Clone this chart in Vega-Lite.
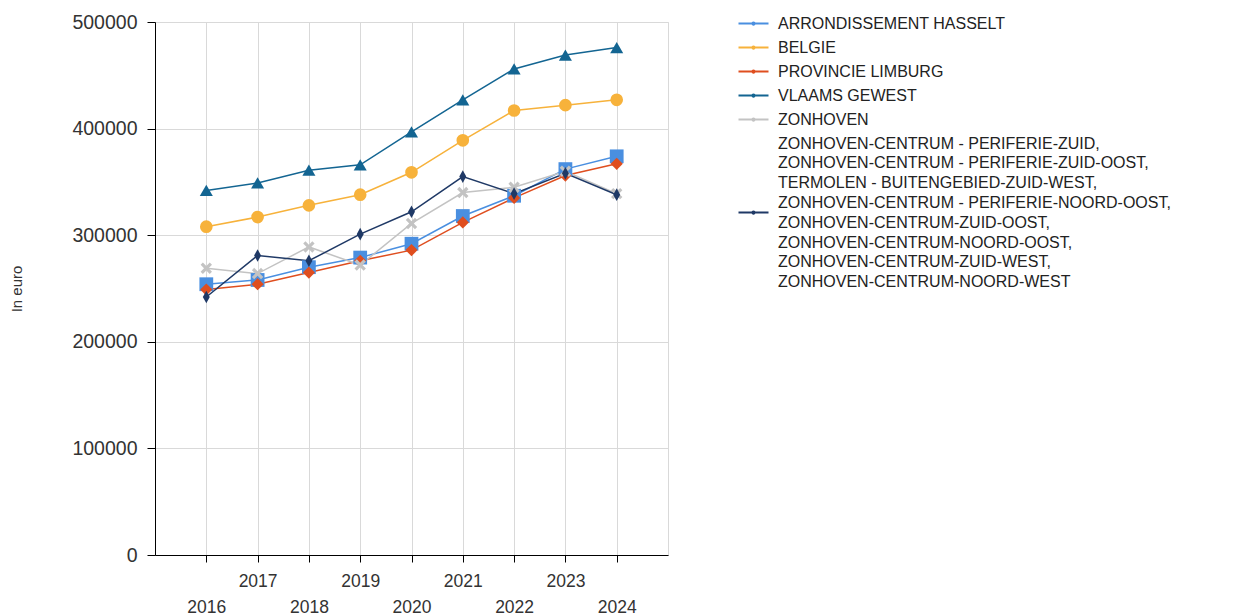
{
  "$schema": "https://vega.github.io/schema/vega-lite/v6.json",
  "width": 513,
  "height": 533,
  "autosize": {"type": "none"},
  "padding": {"left": 155, "top": 22, "right": 569, "bottom": 61},
  "background": "white",
  "config": {
    "font": "Liberation Sans",
    "view": {"stroke": "#d9d9d9", "strokeWidth": 1}
  },
  "data": {
    "values": [
      {"year": "2016", "series": "ARRONDISSEMENT HASSELT", "value": 254000},
      {"year": "2017", "series": "ARRONDISSEMENT HASSELT", "value": 258000},
      {"year": "2018", "series": "ARRONDISSEMENT HASSELT", "value": 270000},
      {"year": "2019", "series": "ARRONDISSEMENT HASSELT", "value": 279000},
      {"year": "2020", "series": "ARRONDISSEMENT HASSELT", "value": 292000},
      {"year": "2021", "series": "ARRONDISSEMENT HASSELT", "value": 318000},
      {"year": "2022", "series": "ARRONDISSEMENT HASSELT", "value": 337000},
      {"year": "2023", "series": "ARRONDISSEMENT HASSELT", "value": 362000},
      {"year": "2024", "series": "ARRONDISSEMENT HASSELT", "value": 374000},
      {"year": "2016", "series": "BELGIE", "value": 308000},
      {"year": "2017", "series": "BELGIE", "value": 317000},
      {"year": "2018", "series": "BELGIE", "value": 328000},
      {"year": "2019", "series": "BELGIE", "value": 338000},
      {"year": "2020", "series": "BELGIE", "value": 359000},
      {"year": "2021", "series": "BELGIE", "value": 389000},
      {"year": "2022", "series": "BELGIE", "value": 417000},
      {"year": "2023", "series": "BELGIE", "value": 422000},
      {"year": "2024", "series": "BELGIE", "value": 427000},
      {"year": "2016", "series": "PROVINCIE LIMBURG", "value": 249000},
      {"year": "2017", "series": "PROVINCIE LIMBURG", "value": 254000},
      {"year": "2018", "series": "PROVINCIE LIMBURG", "value": 265000},
      {"year": "2019", "series": "PROVINCIE LIMBURG", "value": 276000},
      {"year": "2020", "series": "PROVINCIE LIMBURG", "value": 286000},
      {"year": "2021", "series": "PROVINCIE LIMBURG", "value": 312000},
      {"year": "2022", "series": "PROVINCIE LIMBURG", "value": 335000},
      {"year": "2023", "series": "PROVINCIE LIMBURG", "value": 356000},
      {"year": "2024", "series": "PROVINCIE LIMBURG", "value": 367000},
      {"year": "2016", "series": "VLAAMS GEWEST", "value": 342000},
      {"year": "2017", "series": "VLAAMS GEWEST", "value": 349000},
      {"year": "2018", "series": "VLAAMS GEWEST", "value": 361000},
      {"year": "2019", "series": "VLAAMS GEWEST", "value": 366000},
      {"year": "2020", "series": "VLAAMS GEWEST", "value": 397000},
      {"year": "2021", "series": "VLAAMS GEWEST", "value": 427000},
      {"year": "2022", "series": "VLAAMS GEWEST", "value": 456000},
      {"year": "2023", "series": "VLAAMS GEWEST", "value": 469000},
      {"year": "2024", "series": "VLAAMS GEWEST", "value": 476000},
      {"year": "2016", "series": "ZONHOVEN", "value": 269000},
      {"year": "2017", "series": "ZONHOVEN", "value": 264000},
      {"year": "2018", "series": "ZONHOVEN", "value": 289000},
      {"year": "2019", "series": "ZONHOVEN", "value": 272000},
      {"year": "2020", "series": "ZONHOVEN", "value": 311000},
      {"year": "2021", "series": "ZONHOVEN", "value": 340000},
      {"year": "2022", "series": "ZONHOVEN", "value": 345000},
      {"year": "2023", "series": "ZONHOVEN", "value": 360000},
      {"year": "2024", "series": "ZONHOVEN", "value": 339000},
      {"year": "2016", "series": "ZONHOVEN-CENTRUM - PERIFERIE-ZUID, ZONHOVEN-CENTRUM - PERIFERIE-ZUID-OOST, TERMOLEN - BUITENGEBIED-ZUID-WEST, ZONHOVEN-CENTRUM - PERIFERIE-NOORD-OOST, ZONHOVEN-CENTRUM-ZUID-OOST, ZONHOVEN-CENTRUM-NOORD-OOST, ZONHOVEN-CENTRUM-ZUID-WEST, ZONHOVEN-CENTRUM-NOORD-WEST", "value": 242000},
      {"year": "2017", "series": "ZONHOVEN-CENTRUM - PERIFERIE-ZUID, ZONHOVEN-CENTRUM - PERIFERIE-ZUID-OOST, TERMOLEN - BUITENGEBIED-ZUID-WEST, ZONHOVEN-CENTRUM - PERIFERIE-NOORD-OOST, ZONHOVEN-CENTRUM-ZUID-OOST, ZONHOVEN-CENTRUM-NOORD-OOST, ZONHOVEN-CENTRUM-ZUID-WEST, ZONHOVEN-CENTRUM-NOORD-WEST", "value": 281000},
      {"year": "2018", "series": "ZONHOVEN-CENTRUM - PERIFERIE-ZUID, ZONHOVEN-CENTRUM - PERIFERIE-ZUID-OOST, TERMOLEN - BUITENGEBIED-ZUID-WEST, ZONHOVEN-CENTRUM - PERIFERIE-NOORD-OOST, ZONHOVEN-CENTRUM-ZUID-OOST, ZONHOVEN-CENTRUM-NOORD-OOST, ZONHOVEN-CENTRUM-ZUID-WEST, ZONHOVEN-CENTRUM-NOORD-WEST", "value": 276000},
      {"year": "2019", "series": "ZONHOVEN-CENTRUM - PERIFERIE-ZUID, ZONHOVEN-CENTRUM - PERIFERIE-ZUID-OOST, TERMOLEN - BUITENGEBIED-ZUID-WEST, ZONHOVEN-CENTRUM - PERIFERIE-NOORD-OOST, ZONHOVEN-CENTRUM-ZUID-OOST, ZONHOVEN-CENTRUM-NOORD-OOST, ZONHOVEN-CENTRUM-ZUID-WEST, ZONHOVEN-CENTRUM-NOORD-WEST", "value": 301000},
      {"year": "2020", "series": "ZONHOVEN-CENTRUM - PERIFERIE-ZUID, ZONHOVEN-CENTRUM - PERIFERIE-ZUID-OOST, TERMOLEN - BUITENGEBIED-ZUID-WEST, ZONHOVEN-CENTRUM - PERIFERIE-NOORD-OOST, ZONHOVEN-CENTRUM-ZUID-OOST, ZONHOVEN-CENTRUM-NOORD-OOST, ZONHOVEN-CENTRUM-ZUID-WEST, ZONHOVEN-CENTRUM-NOORD-WEST", "value": 322000},
      {"year": "2021", "series": "ZONHOVEN-CENTRUM - PERIFERIE-ZUID, ZONHOVEN-CENTRUM - PERIFERIE-ZUID-OOST, TERMOLEN - BUITENGEBIED-ZUID-WEST, ZONHOVEN-CENTRUM - PERIFERIE-NOORD-OOST, ZONHOVEN-CENTRUM-ZUID-OOST, ZONHOVEN-CENTRUM-NOORD-OOST, ZONHOVEN-CENTRUM-ZUID-WEST, ZONHOVEN-CENTRUM-NOORD-WEST", "value": 355000},
      {"year": "2022", "series": "ZONHOVEN-CENTRUM - PERIFERIE-ZUID, ZONHOVEN-CENTRUM - PERIFERIE-ZUID-OOST, TERMOLEN - BUITENGEBIED-ZUID-WEST, ZONHOVEN-CENTRUM - PERIFERIE-NOORD-OOST, ZONHOVEN-CENTRUM-ZUID-OOST, ZONHOVEN-CENTRUM-NOORD-OOST, ZONHOVEN-CENTRUM-ZUID-WEST, ZONHOVEN-CENTRUM-NOORD-WEST", "value": 339000},
      {"year": "2023", "series": "ZONHOVEN-CENTRUM - PERIFERIE-ZUID, ZONHOVEN-CENTRUM - PERIFERIE-ZUID-OOST, TERMOLEN - BUITENGEBIED-ZUID-WEST, ZONHOVEN-CENTRUM - PERIFERIE-NOORD-OOST, ZONHOVEN-CENTRUM-ZUID-OOST, ZONHOVEN-CENTRUM-NOORD-OOST, ZONHOVEN-CENTRUM-ZUID-WEST, ZONHOVEN-CENTRUM-NOORD-WEST", "value": 358000},
      {"year": "2024", "series": "ZONHOVEN-CENTRUM - PERIFERIE-ZUID, ZONHOVEN-CENTRUM - PERIFERIE-ZUID-OOST, TERMOLEN - BUITENGEBIED-ZUID-WEST, ZONHOVEN-CENTRUM - PERIFERIE-NOORD-OOST, ZONHOVEN-CENTRUM-ZUID-OOST, ZONHOVEN-CENTRUM-NOORD-OOST, ZONHOVEN-CENTRUM-ZUID-WEST, ZONHOVEN-CENTRUM-NOORD-WEST", "value": 338000}
    ]
  },
  "encoding": {
    "x": {
      "field": "year",
      "type": "ordinal",
      "scale": {"type": "point", "padding": 1},
      "axis": {
        "title": null,
        "labelAngle": 0,
        "labelFontSize": 17.5,
        "labelColor": "#333333",
        "labelPadding": {"condition": {"test": "toNumber(datum.value) % 2 === 1", "value": 10}, "value": 36},
        "domainColor": "#000000",
        "tickColor": "#000000",
        "tickSize": 7,
        "gridColor": "#d9d9d9",
        "grid": true
      }
    },
    "y": {
      "field": "value",
      "type": "quantitative",
      "scale": {"domain": [0, 500000], "nice": false},
      "axis": {
        "title": "In euro",
        "titleFontSize": 15,
        "titleFontWeight": "normal",
        "titleColor": "#333333",
        "titlePadding": 47,
        "values": [0, 100000, 200000, 300000, 400000, 500000],
        "format": "d",
        "labelFontSize": 19.5,
        "labelColor": "#333333",
        "labelPadding": 10,
        "domainColor": "#000000",
        "tickColor": "#000000",
        "tickSize": 8,
        "gridColor": "#d9d9d9"
      }
    }
  },
  "layer": [
    {
      "mark": {"type": "line", "strokeWidth": 1.5},
      "encoding": {
        "color": {
          "field": "series",
          "type": "nominal",
          "scale": {
            "domain": [
              "ARRONDISSEMENT HASSELT",
              "BELGIE",
              "PROVINCIE LIMBURG",
              "VLAAMS GEWEST",
              "ZONHOVEN",
              "ZONHOVEN-CENTRUM - PERIFERIE-ZUID, ZONHOVEN-CENTRUM - PERIFERIE-ZUID-OOST, TERMOLEN - BUITENGEBIED-ZUID-WEST, ZONHOVEN-CENTRUM - PERIFERIE-NOORD-OOST, ZONHOVEN-CENTRUM-ZUID-OOST, ZONHOVEN-CENTRUM-NOORD-OOST, ZONHOVEN-CENTRUM-ZUID-WEST, ZONHOVEN-CENTRUM-NOORD-WEST"
            ],
            "range": ["#4a8fe0", "#f7b23b", "#df4e1f", "#136592", "#c3c3c3", "#1f3966"]
          },
          "legend": {
            "orient": "none",
            "legendX": 590,
            "legendY": -7,
            "title": null,
            "labelFontSize": 16,
            "labelColor": "#222222",
            "labelLimit": 0,
            "labelOffset": 16,
            "labelExpr": "split(join(split(datum.label, ', '), ',|'), '|')",
            "symbolType": "M-2,0H2M-0.15,0a0.15,0.15 0 1,0 0.3,0a0.15,0.15 0 1,0 -0.3,0",
            "symbolSize": 225,
            "symbolStrokeWidth": 2,
            "rowPadding": 7,
            "encode": {
              "symbols": {
                "update": {
                  "strokeWidth": {"value": 2},
                  "fill": {"value": "transparent"}
                }
              },
              "labels": {
                "update": {
                  "lineHeight": {"value": 19.8},
                  "dy": {"signal": "indexof(datum.value, ',') > 0 ? -69 : 0"}
                }
              }
            }
          }
        }
      }
    },
    {
      "transform": [{"filter": "datum.series === 'ARRONDISSEMENT HASSELT'"}],
      "mark": {"type": "point", "shape": "square", "filled": true, "opacity": 1, "size": 190, "color": "#4a8fe0"}
    },
    {
      "transform": [{"filter": "datum.series === 'BELGIE'"}],
      "mark": {"type": "point", "shape": "circle", "filled": true, "opacity": 1, "size": 160, "color": "#f7b23b"}
    },
    {
      "transform": [{"filter": "datum.series === 'PROVINCIE LIMBURG'"}],
      "mark": {"type": "point", "shape": "diamond", "filled": true, "opacity": 1, "size": 150, "color": "#df4e1f"}
    },
    {
      "transform": [{"filter": "datum.series === 'VLAAMS GEWEST'"}],
      "mark": {"type": "point", "shape": "triangle-up", "filled": true, "opacity": 1, "size": 170, "color": "#136592"}
    },
    {
      "transform": [{"filter": "datum.series === 'ZONHOVEN'"}],
      "mark": {"type": "point", "shape": "M-1,-0.6L-0.6,-1L0,-0.4L0.6,-1L1,-0.6L0.4,0L1,0.6L0.6,1L0,0.4L-0.6,1L-1,0.6L-0.4,0Z", "filled": true, "opacity": 1, "size": 130, "color": "#c3c3c3"}
    },
    {
      "transform": [{"filter": "indexof(datum.series, ',') > 0"}],
      "mark": {"type": "point", "shape": "M0,-1L0.55,0L0,1L-0.55,0Z", "filled": true, "opacity": 1, "size": 160, "color": "#1f3966"}
    }
  ]
}
